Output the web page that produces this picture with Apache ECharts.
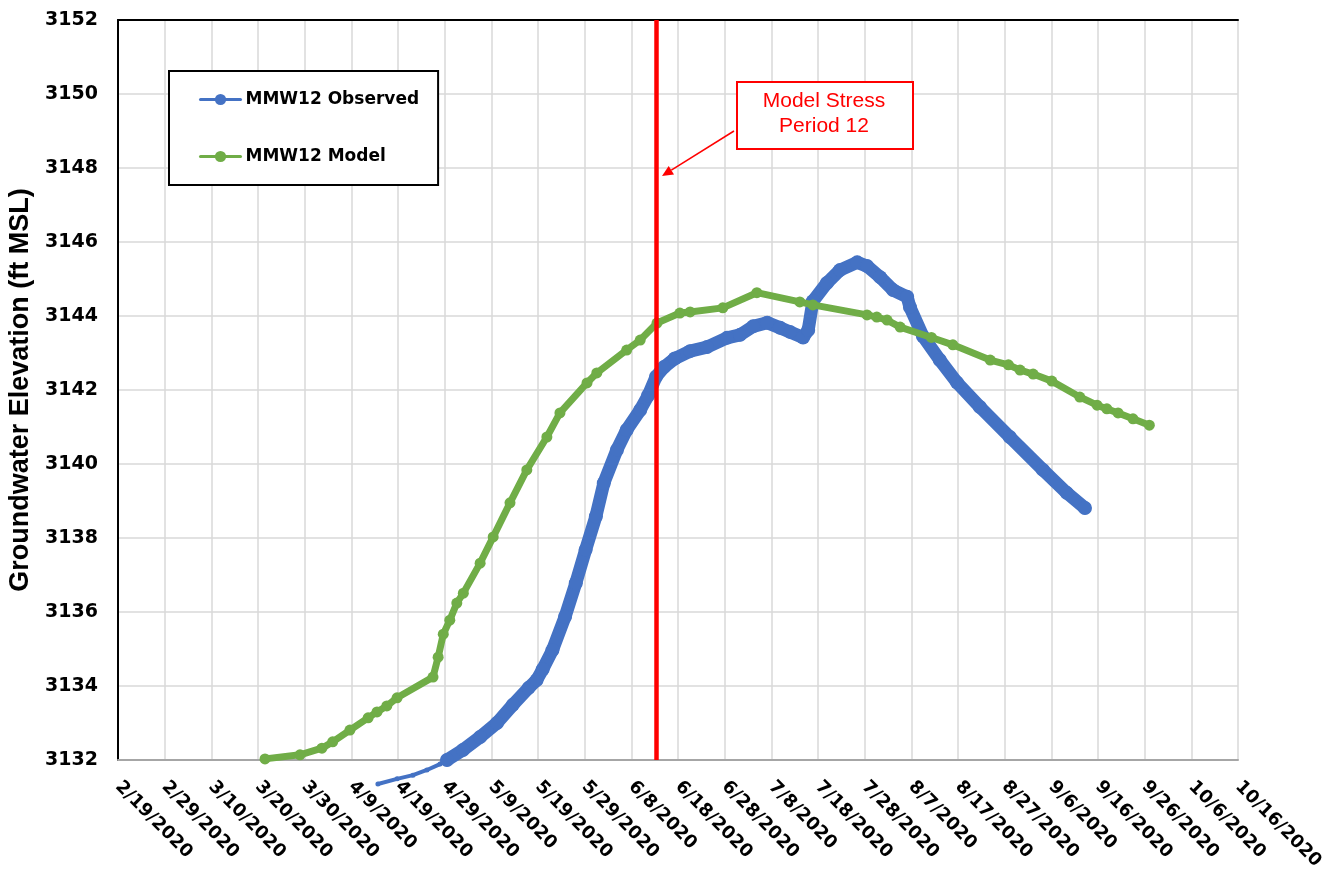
<!DOCTYPE html>
<html>
<head>
<meta charset="utf-8">
<script src="https://cdn.jsdelivr.net/npm/echarts@6/dist/echarts.min.js"></script>
<style>
html,body{margin:0;padding:0;background:#fff;}
#chart{width:1339px;height:877px;}
</style>
</head>
<body>
<div id="chart"></div>
<script>
// Day offsets are counted from 2/19/2020 (day 0)
const tickLabels = ['2/19/2020','2/29/2020','3/10/2020','3/20/2020','3/30/2020','4/9/2020','4/19/2020','4/29/2020','5/9/2020','5/19/2020','5/29/2020','6/8/2020','6/18/2020','6/28/2020','7/8/2020','7/18/2020','7/28/2020','8/7/2020','8/17/2020','8/27/2020','9/6/2020','9/16/2020','9/26/2020','10/6/2020','10/16/2020'];

// MMW12 Observed - early sparse segment
const obsEarlyDay  = [55.7, 59.8, 63.2, 66.2, 69.0, 70.5];
const obsEarlyElev = [3131.35, 3131.49, 3131.59, 3131.73, 3131.89, 3132.0];

// MMW12 Observed - dense segment
const obsDay  = [70.5, 73.9, 77.6, 81.2, 84.6, 88.0, 89.7, 91.0, 93.1, 95.8, 98.1, 100.2, 102.4, 104.1, 106.9, 109.0, 111.9, 113.6, 115.3, 117.0, 119.3, 122.6, 126.2, 130.5, 133.3, 136.1, 139.1, 141.9, 144.0, 146.8, 147.9, 148.9, 151.9, 154.7, 158.4, 160.5, 163.3, 166.1, 169.1, 169.7, 172.5, 176.1, 179.8, 184.7, 191.1, 198.2, 203.3, 207.2];
const obsElev = [3132.0, 3132.27, 3132.62, 3133.0, 3133.49, 3133.95, 3134.16, 3134.45, 3134.97, 3135.87, 3136.78, 3137.68, 3138.58, 3139.48, 3140.38, 3140.92, 3141.46, 3141.85, 3142.36, 3142.62, 3142.85, 3143.05, 3143.16, 3143.41, 3143.49, 3143.72, 3143.82, 3143.68, 3143.57, 3143.42, 3143.62, 3144.4, 3144.89, 3145.24, 3145.45, 3145.35, 3145.05, 3144.70, 3144.52, 3144.24, 3143.45, 3142.81, 3142.2, 3141.54, 3140.73, 3139.84, 3139.22, 3138.81];

// MMW12 Model
const modelDay  = [31.5, 39.0, 43.7, 46.0, 49.7, 53.6, 55.5, 57.6, 59.8, 67.5, 68.6, 69.7, 71.1, 72.6, 74.0, 77.6, 80.4, 84.0, 87.6, 91.9, 94.7, 100.5, 102.6, 109.0, 111.9, 115.5, 120.4, 122.6, 129.6, 136.9, 146.1, 148.9, 160.5, 162.6, 164.8, 167.6, 174.3, 178.9, 186.9, 190.8, 193.3, 196.1, 200.1, 206.1, 209.8, 211.9, 214.3, 217.5, 221.0];
const modelElev = [3132.03, 3132.14, 3132.32, 3132.49, 3132.81, 3133.14, 3133.3, 3133.46, 3133.68, 3134.24, 3134.78, 3135.4, 3135.78, 3136.24, 3136.51, 3137.32, 3138.03, 3138.95, 3139.84, 3140.73, 3141.38, 3142.19, 3142.46, 3143.08, 3143.35, 3143.81, 3144.08, 3144.11, 3144.22, 3144.63, 3144.38, 3144.30, 3144.03, 3143.97, 3143.89, 3143.7, 3143.42, 3143.22, 3142.81, 3142.68, 3142.54, 3142.43, 3142.24, 3141.81, 3141.59, 3141.49, 3141.38, 3141.22, 3141.05];

// Model stress period 12 start (day offset)
const stressDay = 115.4;

const zip = (a, b) => a.map((v, i) => [v, b[i]]);

const BLUE = '#4472C4', GREEN = '#70AD47', RED = '#FF0000';
const chart = echarts.init(document.getElementById('chart'), null, {renderer: 'canvas'});

const tip = [662, 176], tail = [734, 131];
const ang = Math.atan2(tip[1] - tail[1], tip[0] - tail[0]);
const hl = 11, hw = 5;
const bx = tip[0] - hl * Math.cos(ang), by = tip[1] - hl * Math.sin(ang);
const head = [tip, [bx + hw * Math.sin(ang), by - hw * Math.cos(ang)], [bx - hw * Math.sin(ang), by + hw * Math.cos(ang)]];

const option = {
  backgroundColor: '#ffffff',
  animation: false,
  grid: {left: 118, top: 20, right: 101, bottom: 117, containLabel: false, outerBoundsMode: 'none'},
  legend: {
    data: ['MMW12 Observed', 'MMW12 Model'],
    orient: 'vertical',
    left: 169, top: 71,
    padding: [20, 19, 20, 30],
    itemGap: 40,
    itemWidth: 40,
    itemHeight: 14,
    backgroundColor: '#ffffff',
    borderColor: '#000000',
    borderWidth: 2,
    borderRadius: 0,
    lineStyle: {width: 3},
    textStyle: {fontFamily: 'DejaVu Sans', fontWeight: 'bold', fontSize: 17, color: '#000'}
  },
  xAxis: [{
    type: 'value', min: 0, max: 240, interval: 10,
    axisLine: {show: true, lineStyle: {color: '#A6A6A6', width: 2}},
    axisTick: {show: false},
    splitLine: {show: true, lineStyle: {color: '#D9D9D9', width: 1.5}},
    axisLabel: {
      rotate: -45, margin: 24,
      fontFamily: 'DejaVu Sans', fontWeight: 'bold', fontSize: 18, color: '#000',
      formatter: v => tickLabels[Math.round(v / 10)] || ''
    }
  }, {
    type: 'value', position: 'top', min: 0, max: 240, interval: 10,
    axisLine: {show: true, lineStyle: {color: '#000', width: 2}},
    axisTick: {show: false}, axisLabel: {show: false}, splitLine: {show: false}
  }],
  yAxis: [{
    type: 'value', min: 3132, max: 3152, interval: 2,
    name: 'Groundwater Elevation (ft MSL)',
    nameLocation: 'middle', nameGap: 84, nameRotate: 90,
    nameTextStyle: {fontFamily: 'Liberation Sans', fontWeight: 'bold', fontSize: 27, color: '#000'},
    axisLine: {show: true, lineStyle: {color: '#A6A6A6', width: 2}},
    axisTick: {show: false},
    splitLine: {show: true, lineStyle: {color: '#D9D9D9', width: 1.5}},
    axisLabel: {margin: 20, fontFamily: 'DejaVu Sans', fontWeight: 'bold', fontSize: 19, color: '#000',
      formatter: v => String(v)}
  }, {
    type: 'value', position: 'right', min: 3132, max: 3152, interval: 2,
    axisLine: {show: true, lineStyle: {color: '#000', width: 2}},
    axisTick: {show: false}, axisLabel: {show: false}, splitLine: {show: false}
  }],
  series: [
    {
      name: 'MMW12 Observed', type: 'line', data: zip(obsEarlyDay, obsEarlyElev),
      clip: false, symbol: 'circle', symbolSize: 5, showSymbol: true,
      itemStyle: {color: BLUE}, lineStyle: {color: BLUE, width: 4, cap: 'round', join: 'round'},
      z: 3
    },
    {
      name: 'MMW12 Observed', type: 'line', data: zip(obsDay, obsElev),
      clip: false, symbol: 'circle', symbolSize: 14, showSymbol: true,
      itemStyle: {color: BLUE}, lineStyle: {color: BLUE, width: 13, cap: 'round', join: 'round'},
      z: 3
    },
    {
      name: 'MMW12 Model', type: 'line', data: zip(modelDay, modelElev),
      symbol: 'circle', symbolSize: 11, showSymbol: true,
      itemStyle: {color: GREEN}, lineStyle: {color: GREEN, width: 7, cap: 'round', join: 'round'},
      z: 4,
      markLine: {
        silent: true, symbol: 'none', animation: false,
        label: {show: false},
        lineStyle: {color: RED, width: 4.5, type: 'solid'},
        data: [{xAxis: stressDay}]
      }
    }
  ],
  graphic: [
    {type: 'rect', left: 736, top: 81, shape: {width: 176, height: 67}, style: {fill: '#fff', stroke: RED, lineWidth: 2}, z: 100},
    {type: 'text', x: 824, y: 114, style: {text: 'Model Stress\nPeriod 12', fill: RED, font: '21px "Liberation Sans"', align: 'center', verticalAlign: 'middle', lineHeight: 25}, z: 101},
    {type: 'line', shape: {x1: tail[0], y1: tail[1], x2: bx, y2: by}, style: {stroke: RED, lineWidth: 1.5}, z: 100},
    {type: 'polygon', shape: {points: head}, style: {fill: RED}, z: 100}
  ]
};
chart.setOption(option);
</script>
</body>
</html>
